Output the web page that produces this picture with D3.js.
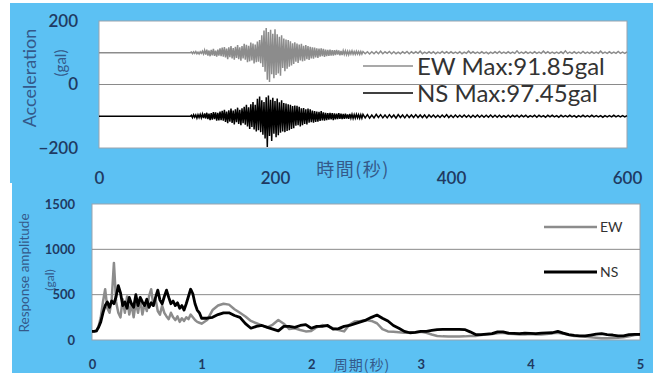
<!DOCTYPE html>
<html><head><meta charset="utf-8">
<script src="https://cdn.jsdelivr.net/npm/d3@7"></script>
<style>
html,body{margin:0;padding:0;background:#fff;}
svg{display:block;}
</style></head><body>
<svg id="c" width="653" height="373"></svg>
<script>
// ---------- data: acceleration records (gal) ----------
// sample times: every 1.25 s from 100 s to 300 s, then every 2.5 s to 600 s
const accTimes = [...d3.range(0, 160).map(k => 100 + k * 1.25), ...d3.range(0, 121).map(k => 300 + k * 2.5)];
const accTimeTicks = [0, 200, 400, 600];
const accValueTicks = [200, 0, -200];
const ewAcc = [0,0,0,0,
 2,-3,3,-2,4,-3,2,-4,3,-2,5,-4,
 8,-6,10,-9,7,-11,9,-8,12,-10,7,-12,10,-9,14,-11,
 16,-12,18,-15,13,-20,17,-14,21,-18,15,-22,19,-16,24,-20,17,-25,21,-18,
 28,-22,25,-30,22,-27,32,-24,29,-34,26,-30,35,-28,40,-33,
 55,-45,70,-60,78,-85,65,-92,72,-68,60,-80,74,-70,58,-65,50,-72,55,-48,45,-58,42,-50,40,-44,
 36,-40,30,-35,33,-28,29,-32,26,-24,28,-27,22,-25,24,-20,21,-23,19,-18,
 17,-19,16,-15,14,-16,13,-12,14,-11,12,-13,10,-11,9,-10,
 10,-9,8,-9,8,-7,9,-6,7,-8,6,-7,7,-5,6,-6,5,-6,5,-4,6,-5,4,-5,5,-4,4,-5,4,-4,
 4,-3,3,-4,3,-3,4,-3,5,-3,3,-2,4,-3,3,-3,2,-3,3,-2,
 4,-3,3,-2,3,-2,5,-3,2,-2,3,-2,3,-3,2,-2,4,-2,3,-2,
 3,-2,2,-2,3,-3,2,-2,5,-2,3,-2,2,-2,3,-2,2,-3,2,-2,
 3,-2,4,-2,2,-2,3,-2,2,-2,6,-2,2,-2,3,-2,2,-2,3,-2,
 2,-2,5,-2,3,-2,2,-2,2,-2,3,-2,6,-2,2,-2,3,-2,2,-2,
 4,-2,2,-2,3,-2,2,-2,5,-2,2,-2,3,-2,2,-2,4,-2,2,-2,3];
const nsAcc = [0,0,0,0,
 3,-4,5,-3,4,-6,5,-4,6,-5,7,-6,
 9,-7,11,-9,8,-12,10,-11,13,-9,12,-14,11,-13,15,-12,
 17,-14,20,-18,15,-22,19,-17,24,-21,18,-26,22,-19,27,-24,20,-28,25,-22,
 30,-27,36,-32,28,-40,38,-34,45,-42,36,-48,55,-44,62,-50,
 50,-58,45,-70,60,-97,65,-62,52,-78,58,-55,48,-66,56,-60,44,-52,50,-48,42,-50,40,-46,38,-44,
 36,-40,32,-38,34,-30,33,-28,30,-32,25,-28,26,-24,22,-26,24,-20,22,-19,
 18,-20,16,-18,15,-17,14,-15,16,-13,12,-14,11,-12,10,-11,
 11,-10,10,-12,9,-10,8,-9,10,-8,8,-9,7,-8,8,-7,6,-8,7,-6,6,-7,5,-6,6,-5,5,-6,5,-6,
 6,-5,5,-6,4,-5,6,-4,5,-5,4,-5,5,-4,4,-6,5,-4,4,-5,
 5,-4,4,-4,5,-4,4,-4,4,-5,4,-3,4,-4,3,-4,4,-3,5,-4,
 3,-4,4,-3,3,-3,4,-3,3,-4,3,-3,4,-3,3,-3,3,-3,4,-3,
 3,-3,3,-3,2,-3,3,-3,3,-2,3,-3,3,-2,3,-3,2,-2,3,-3,
 3,-2,2,-3,3,-2,3,-2,2,-3,3,-2,2,-2,3,-2,2,-3,2,-2,
 3,-2,2,-2,3,-2,2,-2,2,-3,2,-2,2,-2,3,-2,2,-2,2,-2,2];
const ewMaxLabel = "EW Max:91.85gal";
const nsMaxLabel = "NS Max:97.45gal";

// ---------- data: response spectra (gal) ----------
const periods = [...d3.range(0, 50.5, 1).map(i => i * 0.02), ...d3.range(21, 100.5, 1).map(i => i * 0.05)];
const nsResp = [95,95,100,140,200,300,380,420,360,430,400,480,600,520,380,420,350,470,400,360,
 500,380,470,420,380,450,360,410,380,470,550,440,400,480,550,470,400,430,380,410,
 350,380,330,400,480,560,510,400,330,300,240,
 240,250,280,300,300,270,250,180,130,150,160,140,120,100,150,150,140,160,170,130,
 150,150,160,120,125,150,160,180,200,220,250,275,240,210,160,130,95,80,85,95,
 95,105,115,118,118,118,118,115,90,60,60,65,70,90,90,75,72,70,75,72,
 70,75,78,80,95,75,60,50,45,45,55,65,70,60,55,45,45,60,62,62];
const ewResp = [95,95,100,150,250,420,560,350,300,450,850,420,300,250,450,300,480,280,400,250,
 420,300,450,280,400,320,480,560,380,450,320,280,380,300,260,230,300,250,220,260,
 200,240,210,250,230,280,250,220,200,190,180,
 220,330,380,400,390,340,300,260,210,185,160,140,170,220,180,120,130,110,95,100,
 140,165,150,130,110,95,170,205,210,220,210,185,120,95,90,85,80,80,85,90,
 80,60,45,40,38,38,38,40,45,45,55,60,65,75,80,70,65,60,62,65,
 62,60,65,75,80,70,55,45,40,35,30,25,20,20,22,25,30,40,55,60];
const respXTicks = [0, 1, 2, 3, 4, 5];
const respYTicks = [0, 500, 1000, 1500];
const seriesNames = ["EW", "NS"];

// ---------- drawing ----------
const svg = d3.select("#c");
const BLUE = "rgb(92,193,243)", TICK = "#1f3a62", TITLE = "#34598a";
const LATO = "Lato, 'Open Sans', sans-serif";
const CJK = "'Noto Sans CJK JP', sans-serif";

svg.append("rect").attr("x", 10).attr("y", 3).attr("width", 643).attr("height", 180).attr("fill", BLUE);
svg.append("rect").attr("x", 12).attr("y", 183).attr("width", 641).attr("height", 190).attr("fill", BLUE);

// ===== top panel =====
const x1 = d3.scaleLinear().domain([0, 600]).range([99, 627]);
const y1 = d3.scaleLinear().domain([-200, 200]).range([148, 21]);
const g1 = svg.append("g");
g1.append("rect").attr("x", x1(0)).attr("y", y1(200)).attr("width", x1(600) - x1(0)).attr("height", y1(-200) - y1(200))
  .attr("fill", "#fff").attr("stroke", "#9aa3ad").attr("stroke-width", 1);
g1.append("line").attr("x1", x1(0)).attr("x2", x1(600)).attr("y1", y1(0)).attr("y2", y1(0))
  .attr("stroke", "#8a8a8a").attr("stroke-width", 1);

const accPts = (arr, offset) => [[0, offset]].concat(arr.map((v, i) => [accTimes[i], v + offset]));
const accLine = d3.line().x(d => x1(d[0])).y(d => y1(d[1]));
g1.append("path").attr("d", accLine(accPts(ewAcc, 100))).attr("fill", "none").attr("stroke", "#8c8c8c").attr("stroke-width", 1.5);
g1.append("path").attr("d", accLine(accPts(nsAcc, -100))).attr("fill", "none").attr("stroke", "#000").attr("stroke-width", 1.5);

const ax1y = g1.append("g").attr("transform", `translate(${x1(0)},0)`)
  .call(d3.axisLeft(y1).tickValues(accValueTicks).tickSize(0).tickPadding(21));
const ax1x = g1.append("g").attr("transform", `translate(0,${y1(-200)})`)
  .call(d3.axisBottom(x1).tickValues(accTimeTicks).tickSize(0).tickPadding(24));
[ax1y, ax1x].forEach(a => {
  a.select(".domain").remove();
  a.selectAll("text").attr("font-family", LATO).attr("font-size", 17).attr("font-weight", 600).attr("fill", TICK);
});

g1.append("text").attr("transform", "translate(36,78) rotate(-90)").attr("text-anchor", "middle")
  .attr("font-family", LATO).attr("font-size", 18).attr("fill", TITLE).text("Acceleration");
g1.append("text").attr("transform", "translate(66,63) rotate(-90)").attr("text-anchor", "middle")
  .attr("font-family", LATO).attr("font-size", 15).attr("fill", TITLE).text("(gal)");
g1.append("text").attr("x", 353).attr("y", 176).attr("text-anchor", "middle")
  .attr("font-family", CJK).attr("font-size", 18).attr("letter-spacing", 1.5).attr("fill", TITLE).text("時間(秒)");

// legend top
[[ewMaxLabel, "#8c8c8c", 66, 75], [nsMaxLabel, "#000", 93, 102]].forEach(([t, c, ly, ty]) => {
  g1.append("line").attr("x1", 363).attr("x2", 413).attr("y1", ly).attr("y2", ly).attr("stroke", c).attr("stroke-width", 1.3);
  g1.append("text").attr("x", 417).attr("y", ty).attr("font-family", LATO).attr("font-size", 24).attr("fill", "#333").text(t);
});

// ===== bottom panel =====
const x2 = d3.scaleLinear().domain([0, 5]).range([92, 640]);
const y2 = d3.scaleLinear().domain([0, 1500]).range([340, 204]);
const g2 = svg.append("g");
g2.append("rect").attr("x", x2(0)).attr("y", y2(1500)).attr("width", x2(5) - x2(0)).attr("height", y2(0) - y2(1500))
  .attr("fill", "#fff").attr("stroke", "#9aa3ad").attr("stroke-width", 1);
g2.selectAll("line.grid").data([500, 1000]).join("line").attr("class", "grid")
  .attr("x1", x2(0)).attr("x2", x2(5)).attr("y1", d => y2(d)).attr("y2", d => y2(d))
  .attr("stroke", "#8a8a8a").attr("stroke-width", 1);

const respLine = d3.line().x((d, i) => x2(periods[i])).y(d => y2(d));
g2.append("path").attr("d", respLine(ewResp)).attr("fill", "none").attr("stroke", "#8c8c8c").attr("stroke-width", 2.5).attr("stroke-linejoin", "round");
g2.append("path").attr("d", respLine(nsResp)).attr("fill", "none").attr("stroke", "#000").attr("stroke-width", 2.8).attr("stroke-linejoin", "round");

const ax2y = g2.append("g").attr("transform", `translate(${x2(0)},0)`)
  .call(d3.axisLeft(y2).tickValues(respYTicks).tickFormat(d3.format("d")).tickSize(0).tickPadding(17));
const ax2x = g2.append("g").attr("transform", `translate(0,${y2(0)})`)
  .call(d3.axisBottom(x2).tickValues(respXTicks).tickFormat(d3.format("d")).tickSize(0).tickPadding(20));
[ax2y, ax2x].forEach(a => {
  a.select(".domain").remove();
  a.selectAll("text").attr("font-family", LATO).attr("font-size", 13).attr("font-weight", 700).attr("fill", TICK);
});

g2.append("text").attr("transform", "translate(29,273) rotate(-90)").attr("text-anchor", "middle")
  .attr("font-family", LATO).attr("font-size", 13.5).attr("fill", TITLE).text("Response amplitude");
g2.append("text").attr("transform", "translate(54,280) rotate(-90)").attr("text-anchor", "middle")
  .attr("font-family", LATO).attr("font-size", 12).attr("fill", TITLE).text("(gal)");
g2.append("text").attr("x", 362).attr("y", 370).attr("text-anchor", "middle")
  .attr("font-family", CJK).attr("font-size", 14).attr("letter-spacing", 1).attr("fill", TITLE).text("周期(秒)");

// legend bottom
[[seriesNames[0], "#8c8c8c", 227, 2.5], [seriesNames[1], "#000", 272, 3]].forEach(([t, c, ly, w]) => {
  g2.append("line").attr("x1", 544).attr("x2", 597).attr("y1", ly).attr("y2", ly).attr("stroke", c).attr("stroke-width", w);
  g2.append("text").attr("x", 600).attr("y", ly + 5).attr("font-family", LATO).attr("font-size", 14).attr("fill", "#333").text(t);
});
</script>
</body></html>
